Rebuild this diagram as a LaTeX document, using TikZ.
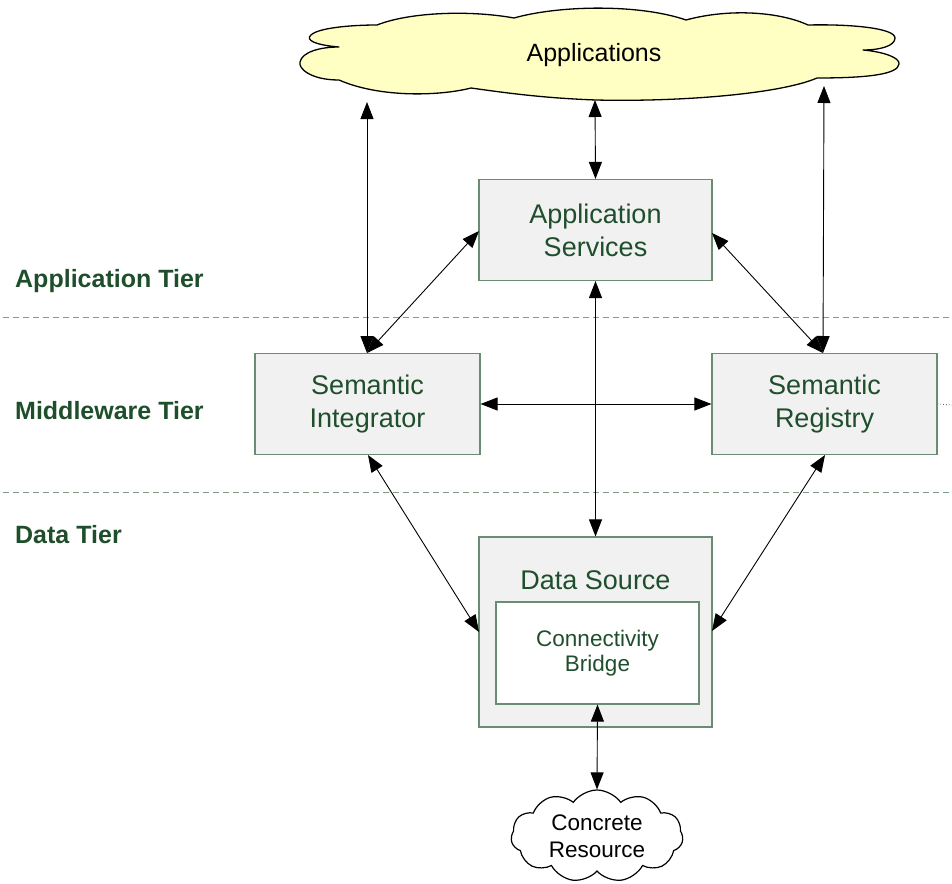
\documentclass[tikz,border=0pt]{standalone}
\usepackage{fontspec}
\setmainfont{Liberation Sans}
\usetikzlibrary{shapes.symbols,arrows.meta}
\definecolor{txtgreen}{HTML}{1F4E2C}
\definecolor{boxborder}{HTML}{6A8C72}
\definecolor{boxfill}{HTML}{F1F1F1}
\definecolor{cloudfill}{HTML}{FFFFC4}
\definecolor{tierline}{HTML}{7F9A86}
\tikzset{
  tierbox/.style={draw=boxborder, line width=1.1pt, fill=boxfill, inner sep=0pt,
    text=txtgreen, align=center, font=\fontsize{27}{33}\selectfont},
  bridgebox/.style={draw=boxborder, line width=1.1pt, fill=white, inner sep=0pt,
    text=txtgreen, align=center, font=\fontsize{22.5}{25}\selectfont},
  cloudnode/.style={cloud, draw=black, line width=1.2pt, inner sep=0pt, align=center},
  cloudline/.style={draw=black, line width=1.3pt, fill=cloudfill, line join=round},
  tierlabel/.style={anchor=west, text=txtgreen, inner sep=0pt, font=\bfseries\fontsize{25}{30}\selectfont},
  conn/.style={draw=black, line width=0.9pt, {Triangle[length=17pt,width=13pt]}-{Triangle[length=17pt,width=13pt]}},
  tierdash/.style={draw=tierline, line width=1pt, dash pattern=on 6pt off 4pt},
}
\begin{document}
\begin{tikzpicture}[x=1pt,y=-1pt]
\useasboundingbox (0,0) rectangle (952,883);
% tier separators
\draw[tierdash] (3,317) -- (952,317);
\draw[tierdash] (3,492) -- (952,492);
% tier labels
\node[tierlabel] (lapp) at (15,281) {Application Tier};
\node[tierlabel] (lmid) at (15,411) {Middleware Tier};
\node[tierlabel] (ldat) at (15,535) {Data Tier};
% applications cloud
\path[cloudline] (377,25) .. controls (410,12) and (470,10) .. (514,18)
  .. controls (560,5) and (640,4) .. (686,20)
  .. controls (730,8) and (780,12) .. (808,25)
  .. controls (850,24) and (895,28) .. (895,38)
  .. controls (895,46) and (880,50) .. (863,50)
  .. controls (885,52) and (900,58) .. (899,64)
  .. controls (898,74) and (870,78) .. (817,78)
  .. controls (780,94) and (680,102) .. (596,100)
  .. controls (540,98) and (500,92) .. (471,88)
  .. controls (440,96) and (380,98) .. (339,80)
  .. controls (310,80) and (298,68) .. (300,62)
  .. controls (302,52) and (320,47) .. (339,47)
  .. controls (315,45) and (305,40) .. (311,35)
  .. controls (318,28) and (350,25) .. (377,25) -- cycle;
\node[inner sep=0pt, font=\fontsize{25}{30}\selectfont] (apps) at (594,55) {Applications};
% concrete resource cloud
\node[cloudnode, fill=white, cloud puffs=11, cloud puff arc=110, aspect=1.9,
      minimum width=172pt, minimum height=92pt, font=\fontsize{22.5}{27}\selectfont]
      (conc) at (597,836) {Concrete\\Resource};
% boxes
\node[tierbox, minimum width=233pt, minimum height=101pt] (appsvc) at (595.5,230) {Application\\Services};
\node[tierbox, minimum width=225pt, minimum height=101pt] (integ) at (367.5,404) {Semantic\\Integrator};
\node[tierbox, minimum width=225pt, minimum height=101pt] (reg) at (824.5,404) {Semantic\\Registry};
\node[tierbox, minimum width=233pt, minimum height=190pt] (ds) at (595.5,632) {};
\node[text=txtgreen, inner sep=0pt, font=\fontsize{27}{33}\selectfont] (dslabel) at (595.5,580) {Data Source};
\node[bridgebox, minimum width=203pt, minimum height=102pt] (bridge) at (597.5,653) {Connectivity\\Bridge};
% connector anchor points
\coordinate (aL) at (367,102);
\coordinate (aC) at (595,100);
\coordinate (aR) at (824,86);
\coordinate (iT) at (367,353);
\coordinate (rT) at (823,353);
\coordinate (sL) at (479,231);
\coordinate (sR) at (712,233);
\coordinate (iB) at (368,455);
\coordinate (rB) at (825,455);
\coordinate (dL) at (479,632);
\coordinate (dR) at (712,631);
\coordinate (offR) at (952,405);
% connectors
\draw[conn] (aL) -- (iT);
\draw[conn] (aC) -- (appsvc.north);
\draw[conn] (aR) -- (rT);
\draw[conn] (sL) -- (iT);
\draw[conn] (sR) -- (rT);
\draw[conn] (integ.east) -- (reg.west);
\draw[conn] (appsvc.south) -- (ds.north);
\draw[conn] (iB) -- (dL);
\draw[conn] (rB) -- (dR);
\draw[conn] (bridge.south) -- (conc.north);
\draw[draw=gray!80!black, line width=0.8pt, dotted] (reg.east) -- (offR);
\end{tikzpicture}
\end{document}
